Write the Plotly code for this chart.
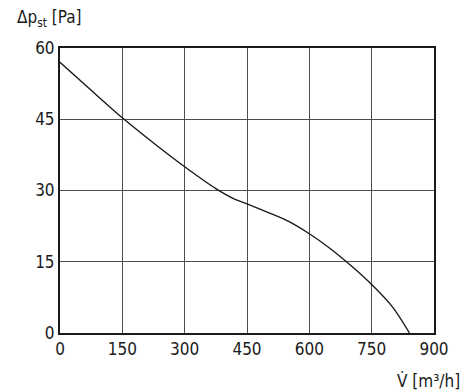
import plotly.graph_objects as go

flow = [0, 75, 150, 225, 300, 375, 420, 450, 500, 550, 600, 650, 700, 750, 800, 841]
pressure = [57, 51.1, 45.3, 40.0, 35.0, 30.4, 28.2, 27.2, 25.4, 23.5, 20.9, 17.8, 14.2, 10.2, 5.5, 0]
x_ticks = [0, 150, 300, 450, 600, 750, 900]
y_ticks = [0, 15, 30, 45, 60]

FONT = "DejaVu Sans Condensed, Liberation Sans Narrow, Liberation Sans, sans-serif"

fig = go.Figure()
fig.add_trace(go.Scatter(x=flow, y=pressure, mode="lines",
                         line=dict(color="#1a1a1a", width=1.4, shape="spline", smoothing=0.8),
                         showlegend=False, hoverinfo="skip"))

fig.update_layout(
    width=462, height=384,
    margin=dict(l=52, r=36, t=40, b=59),
    paper_bgcolor="white", plot_bgcolor="white",
    font=dict(family=FONT, size=17, color="#1a1a1a"),
    xaxis=dict(range=[0, 900], tickvals=x_ticks, ticktext=[str(v) for v in x_ticks],
               showgrid=True, gridcolor="#4d4d4d", gridwidth=1, zeroline=False,
               showline=True, linecolor="#1a1a1a", linewidth=2, mirror=True,
               ticks="", ticklen=0, tickfont=dict(size=17)),
    yaxis=dict(range=[0, 60], tickvals=y_ticks, ticktext=[str(v) for v in y_ticks],
               showgrid=True, gridcolor="#4d4d4d", gridwidth=1, zeroline=False,
               showline=True, linecolor="#1a1a1a", linewidth=2, mirror=True,
               ticks="", ticklen=0, tickfont=dict(size=17)),
    annotations=[
        dict(text="Δp<sub>st</sub> [Pa]", xref="paper", yref="paper", x=-0.12, y=1.105,
             xanchor="left", yanchor="middle", showarrow=False, font=dict(size=17)),
        dict(text="V\u0307 [m³/h]", xref="paper", yref="paper", x=1.075, y=-0.125,
             xanchor="right", yanchor="top", showarrow=False, font=dict(size=17)),
    ],
)

fig.write_html("out.html")
